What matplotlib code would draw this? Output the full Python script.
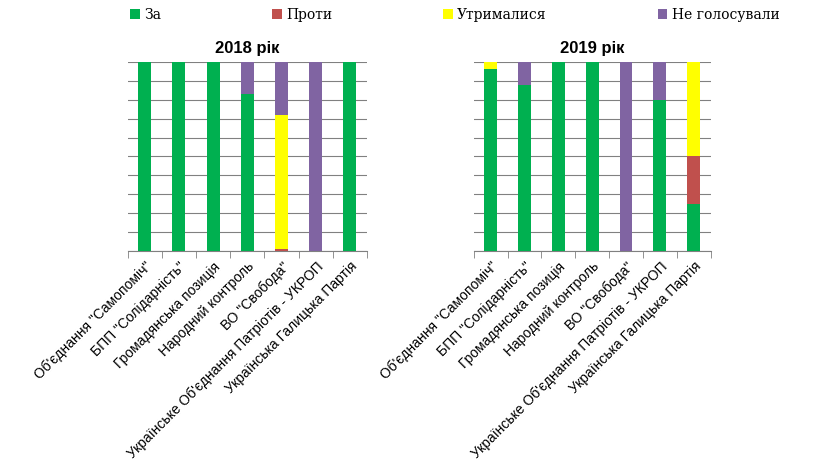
import matplotlib.pyplot as plt
import numpy as np

parties = ['Об\'єднання "Самопоміч"', 'БПП "Солідарність"', 'Громадянська позиція',
           'Народний контроль', 'ВО "Свобода"', 'Українське Об\'єднання Патріотів - УКРОП',
           'Українська Галицька Партія']
series = ['За', 'Проти', 'Утрималися', 'Не голосували']
colors = ['#00B050', '#C0504D', '#FFFF00', '#8064A2']

# percentages per party: za, proty, utrymalysia, ne holosuvaly
y2018 = {
    'За':            [100, 100, 100, 83, 0, 0, 100],
    'Проти':         [0, 0, 0, 0, 1, 0, 0],
    'Утрималися':    [0, 0, 0, 0, 71, 0, 0],
    'Не голосували': [0, 0, 0, 17, 28, 100, 0],
}
y2019 = {
    'За':            [96, 88, 100, 100, 0, 80, 25],
    'Проти':         [0, 0, 0, 0, 0, 0, 25],
    'Утрималися':    [4, 0, 0, 0, 0, 0, 50],
    'Не голосували': [0, 12, 0, 0, 100, 20, 0],
}

fig = plt.figure(figsize=(8.4, 4.72), dpi=100)
axes = [fig.add_axes([0.152, 0.468, 0.285, 0.401]),
        fig.add_axes([0.564, 0.468, 0.282, 0.401])]
x = np.arange(len(parties))
for ax, data, title in zip(axes, [y2018, y2019], ['2018 рік', '2019 рік']):
    bottom = np.zeros(len(parties))
    for s, c in zip(series, colors):
        vals = np.array(data[s])
        ax.bar(x, vals, 0.38, bottom=bottom, color=c, label=s, zorder=3)
        bottom += vals
    ax.set_ylim(0, 100)
    ax.set_xlim(-0.5, len(parties) - 0.5)
    ax.set_yticks(np.arange(0, 101, 10))
    ax.yaxis.grid(True, color='#808080', lw=0.8, zorder=0)
    ax.tick_params(axis='y', length=0, labelleft=False)
    for sp in ['top', 'right', 'left']:
        ax.spines[sp].set_visible(False)
    ax.spines['bottom'].set_color('#808080')
    ax.set_xticks(x)
    ax.set_xticklabels(parties, rotation=45, ha='right', rotation_mode='anchor',
                       fontsize=10, family='Liberation Sans')
    ax.tick_params(axis='x', length=0, pad=6)
    ax.set_xticks(np.arange(-0.5, len(parties), 1), minor=True)
    ax.tick_params(axis='x', which='minor', length=5, color='#808080')
    ax.set_title(title, fontsize=12, fontweight='bold', family='Liberation Sans', pad=6)

handles, labels = axes[0].get_legend_handles_labels()
fig.legend(handles, labels, loc='upper left', bbox_to_anchor=(0.14, 1.01), ncol=4,
           frameon=False, prop={'family': 'DejaVu Serif', 'size': 10},
           handlelength=0.7, handleheight=0.7, handletextpad=0.3, columnspacing=8)
fig.savefig('out.png', dpi=100)
